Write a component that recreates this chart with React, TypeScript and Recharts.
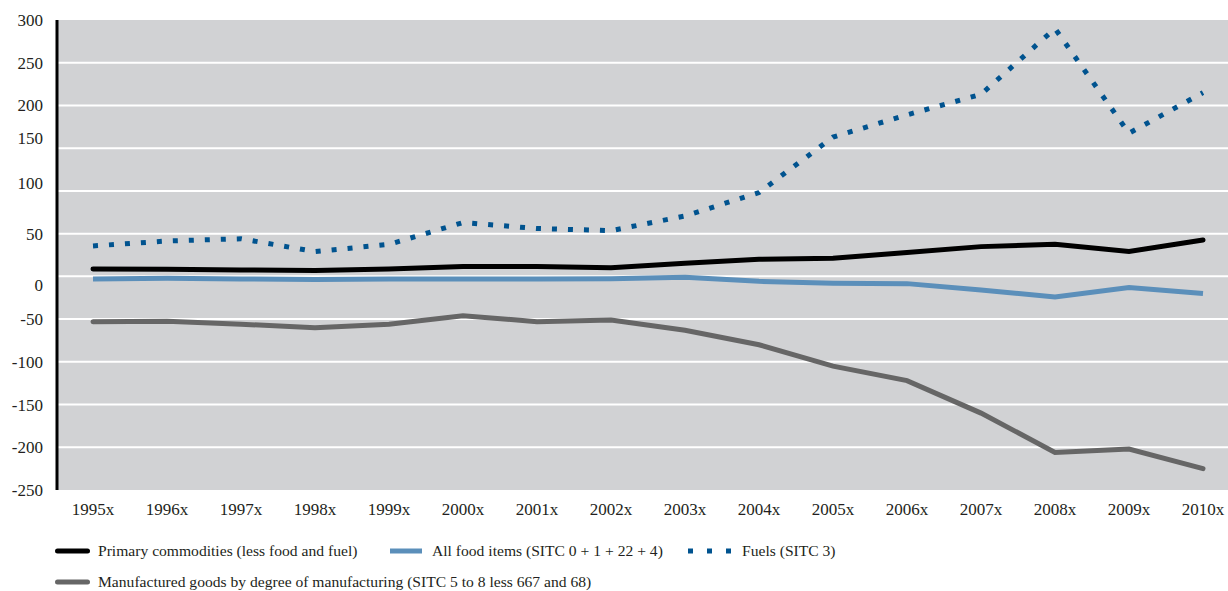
import { LineChart, Line, XAxis, YAxis, CartesianGrid } from 'recharts';

const years = ['1995x', '1996x', '1997x', '1998x', '1999x', '2000x', '2001x', '2002x',
  '2003x', '2004x', '2005x', '2006x', '2007x', '2008x', '2009x', '2010x'];

const primaryCommodities = [8.7, 8.3, 7.5, 7, 8.6, 11.4, 11.4, 10.2, 15.3, 20, 21.2, 28, 34.8, 37.5, 29, 42.6];
const foodItems = [-3, -2.3, -3, -3.8, -3, -3, -3, -2.7, -1, -5.8, -8, -8.5, -16, -24, -13, -20];
const fuels = [35.6, 41.4, 44, 29, 37.5, 63, 56, 53.5, 70.7, 98, 163, 189, 213, 290, 167.5, 215];
const manufactured = [-53, -52.6, -56, -60, -56, -46, -53, -51, -63, -80, -105, -122, -160, -206, -202, -225];

const yTicks = [300, 250, 200, 150, 100, 50, 0, -50, -100, -150, -200, -250];
const gridValues = yTicks.filter((v) => v !== 300 && v !== -250);

const data = years.map((year, i) => ({
  year,
  primary: primaryCommodities[i],
  food: foodItems[i],
  fuels: fuels[i],
  manufactured: manufactured[i],
}));

const FONT = '"Liberation Serif", "DejaVu Serif", serif';

// the source nudges a few y labels off their gridlines
const labelShift: Record<number, number> = { 150: -10, 100: -8, 0: 9 };

function YTick(props: any) {
  const { x, y, payload } = props;
  const shift = labelShift[payload.value] ?? 0;
  return (
    <text x={x} y={y + shift} dy={6} textAnchor="end" fontFamily={FONT} fontSize={17} fill="#231f20">
      {payload.value}
    </text>
  );
}

function XTick(props: any) {
  const { x, y, payload } = props;
  return (
    <text x={x} y={y} dy={25} textAnchor="middle" fontFamily={FONT} fontSize={17} fill="#231f20">
      {payload.value}
    </text>
  );
}

function LegendItem({ left, top, sample, label }: { left: number; top: number; sample: React.ReactNode; label: string }) {
  return (
    <div style={{ position: 'absolute', left, top, height: 20, display: 'flex', alignItems: 'center', whiteSpace: 'nowrap' }}>
      {sample}
      <span style={{ fontFamily: FONT, fontSize: 15.6, color: '#231f20' }}>{label}</span>
    </div>
  );
}

export default function App() {
  return (
    <div style={{ position: 'absolute', left: 0, top: 0, width: 1228, height: 591, overflow: 'hidden', background: '#fff' }}>
      <LineChart width={1228} height={591} data={data} margin={{ top: 20, right: 0, bottom: 0, left: 0 }}>
        <CartesianGrid fill="#d1d2d4" fillOpacity={1} stroke="#ffffff" strokeWidth={2} vertical={false} horizontalValues={gridValues} />
        <XAxis
          dataKey="year"
          padding={{ left: 36, right: 25 }}
          axisLine={false}
          tickLine={false}
          tickSize={0}
          tickMargin={0}
          height={101}
          interval={0}
          tick={<XTick />}
        />
        <YAxis
          domain={[-250, 300]}
          ticks={yTicks}
          width={57}
          axisLine={{ stroke: '#000', strokeWidth: 3 }}
          tickLine={false}
          tickSize={0}
          tickMargin={14}
          interval={0}
          tick={<YTick />}
        />
        <Line type="linear" dataKey="primary" stroke="#000000" strokeWidth={5} strokeLinecap="round" dot={false} isAnimationActive={false} />
        <Line type="linear" dataKey="food" stroke="#5b8fba" strokeWidth={5} dot={false} isAnimationActive={false} />
        <Line type="linear" dataKey="fuels" stroke="#00538f" strokeWidth={5} strokeDasharray="5 11" dot={false} isAnimationActive={false} />
        <Line type="linear" dataKey="manufactured" stroke="#666666" strokeWidth={5} strokeLinecap="round" dot={false} isAnimationActive={false} />
      </LineChart>

      <LegendItem
        left={55}
        top={541}
        label="Primary commodities (less food and fuel)"
        sample={<svg width={43} height={10}><line x1={2.5} x2={32.5} y1={5} y2={5} stroke="#000" strokeWidth={5} strokeLinecap="round" /></svg>}
      />
      <LegendItem
        left={390}
        top={541}
        label="All food items (SITC 0 + 1 + 22 + 4)"
        sample={<svg width={42} height={10}><line x1={0} x2={32} y1={5} y2={5} stroke="#5b8fba" strokeWidth={5} /></svg>}
      />
      <LegendItem
        left={688}
        top={541}
        label="Fuels (SITC 3)"
        sample={<svg width={54} height={10}><line x1={0} x2={43} y1={5} y2={5} stroke="#00538f" strokeWidth={5} strokeDasharray="5 14" /></svg>}
      />
      <LegendItem
        left={55}
        top={572}
        label="Manufactured goods by degree of manufacturing (SITC 5 to 8 less 667 and 68)"
        sample={<svg width={43} height={10}><line x1={2.5} x2={32.5} y1={5} y2={5} stroke="#666666" strokeWidth={5} strokeLinecap="round" /></svg>}
      />
    </div>
  );
}
